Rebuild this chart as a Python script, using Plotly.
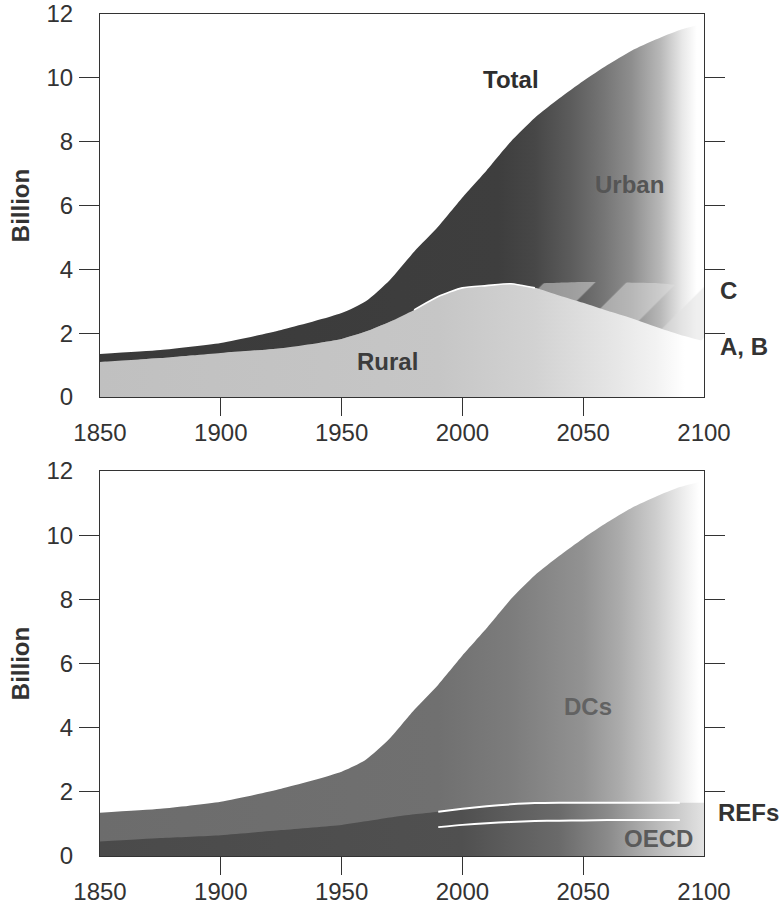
import plotly.graph_objects as go

# ---------------- data (billion people) ----------------
years = [1850, 1875, 1900, 1925, 1950, 1960, 1970, 1980, 1990, 2000,
         2010, 2020, 2030, 2040, 2050, 2060, 2070, 2080, 2090, 2100]
total = [1.35, 1.47, 1.69, 2.10, 2.63, 3.00, 3.67, 4.55, 5.34, 6.25,
         7.10, 8.00, 8.75, 9.35, 9.90, 10.40, 10.85, 11.20, 11.50, 11.70]
rural_ab = [1.10, 1.22, 1.38, 1.53, 1.82, 2.05, 2.36, 2.73, 3.15, 3.42,
            3.49, 3.55, 3.42, 3.18, 2.95, 2.70, 2.47, 2.20, 1.95, 1.75]
rural_c = [1.10, 1.22, 1.38, 1.53, 1.82, 2.05, 2.36, 2.73, 3.15, 3.42,
           3.49, 3.55, 3.56, 3.58, 3.60, 3.60, 3.58, 3.57, 3.50, 3.45]
industrial = [0.45, 0.56, 0.65, 0.81, 0.97, 1.08, 1.20, 1.30, 1.38, 1.47,
              1.55, 1.61, 1.65, 1.66, 1.66, 1.66, 1.66, 1.66, 1.66, 1.66]
oecd = [None, None, None, None, None, None, None, None, 0.90, 0.97,
        1.02, 1.06, 1.09, 1.10, 1.11, 1.12, 1.12, 1.12, 1.12, 1.12]

x_ticks = [1850, 1900, 1950, 2000, 2050, 2100]
x_minor = [1900, 1950, 2000, 2050]
y_ticks = [0, 2, 4, 6, 8, 10, 12]
y_minor = [2, 4, 6, 8, 10]

FONT = "Liberation Sans, Arial, Helvetica, sans-serif"
INK = "#333333"

def grad(stops):
    return dict(type="horizontal", start=1850, stop=2100,
                colorscale=[[(y - 1850) / 250.0, c] for y, c in stops])

urban_grad = grad([(1850, "#3a3a3a"), (2015, "#3e3e3e"), (2030, "#474747"),
                   (2045, "#5c5c5c"), (2058, "#747474"), (2070, "#8e8e8e"),
                   (2082, "#b8b8b8"), (2091, "#e8e8e8"), (2097, "#ffffff"),
                   (2100, "#ffffff")])
rural_grad = grad([(1850, "#c0c0c0"), (1990, "#c6c6c6"), (2030, "#d2d2d2"),
                   (2060, "#e4e4e4"), (2080, "#f2f2f2"), (2092, "#ffffff"),
                   (2100, "#ffffff")])
dcs_grad = grad([(1850, "#6c6c6c"), (1990, "#707070"), (2020, "#7c7c7c"),
                 (2050, "#929292"), (2065, "#ababab"), (2080, "#cdcdcd"),
                 (2092, "#efefef"), (2098, "#ffffff"), (2100, "#ffffff")])
ind_grad = grad([(1850, "#4a4a4a"), (2000, "#505050"), (2040, "#6a6a6a"),
                 (2060, "#8a8a8a"), (2080, "#b8b8b8"), (2095, "#d8d8d8"),
                 (2100, "#e2e2e2")])

SM = 0.6
fig = go.Figure()

# ---------- top panel ----------
fig.add_trace(go.Scatter(x=years, y=total, mode="lines", fill="tozeroy",
                         line=dict(width=0, shape="spline", smoothing=SM),
                         fillgradient=urban_grad,
                         xaxis="x", yaxis="y", hoverinfo="skip"))
fig.add_trace(go.Scatter(x=years, y=rural_c, mode="lines", fill="tozeroy",
                         line=dict(width=0, shape="spline", smoothing=SM),
                         fillcolor="rgba(0,0,0,0)",
                         fillpattern=dict(shape="/", fgcolor="#e0e0e0",
                                          bgcolor="rgba(0,0,0,0)",
                                          size=58, solidity=0.62),
                         xaxis="x", yaxis="y", hoverinfo="skip"))
fig.add_trace(go.Scatter(x=years, y=rural_ab, mode="lines", fill="tozeroy",
                         line=dict(width=0, shape="spline", smoothing=SM),
                         fillgradient=rural_grad,
                         xaxis="x", yaxis="y", hoverinfo="skip"))
fig.add_trace(go.Scatter(x=years[7:13], y=rural_ab[7:13], mode="lines",
                         line=dict(width=1.6, color="#ffffff", shape="spline",
                                   smoothing=SM),
                         xaxis="x", yaxis="y", hoverinfo="skip"))

# ---------- bottom panel ----------
fig.add_trace(go.Scatter(x=years, y=total, mode="lines", fill="tozeroy",
                         line=dict(width=0, shape="spline", smoothing=SM),
                         fillgradient=dcs_grad,
                         xaxis="x2", yaxis="y2", hoverinfo="skip"))
fig.add_trace(go.Scatter(x=years, y=industrial, mode="lines", fill="tozeroy",
                         line=dict(width=0, shape="spline", smoothing=SM),
                         fillgradient=ind_grad,
                         xaxis="x2", yaxis="y2", hoverinfo="skip"))
fig.add_trace(go.Scatter(x=years[8:19], y=industrial[8:19], mode="lines",
                         line=dict(width=2, color="#ffffff", shape="spline",
                                   smoothing=SM),
                         xaxis="x2", yaxis="y2", hoverinfo="skip"))
fig.add_trace(go.Scatter(x=years[8:19], y=oecd[8:19], mode="lines",
                         line=dict(width=2, color="#ffffff", shape="spline",
                                   smoothing=SM),
                         xaxis="x2", yaxis="y2", hoverinfo="skip"))

def xax(anchor):
    return dict(range=[1850, 2100], tickvals=x_ticks,
                ticktext=[str(v) for v in x_ticks], ticks="",
                minor=dict(tickvals=x_minor, ticks="outside", ticklen=18,
                           tickwidth=1, tickcolor=INK),
                showline=True, linecolor=INK, linewidth=1, mirror=True,
                showgrid=False, zeroline=False, anchor=anchor,
                automargin=False, ticklabelstandoff=14,
                ticklabeloverflow="allow",
                tickfont=dict(family=FONT, size=24, color=INK))

def yax(domain, anchor):
    return dict(range=[0, 12], domain=domain, tickvals=y_ticks,
                ticktext=[str(v) for v in y_ticks], ticks="",
                minor=dict(tickvals=y_minor, ticks="outside", ticklen=20,
                           tickwidth=1, tickcolor=INK),
                showline=True, linecolor=INK, linewidth=1, mirror="ticks",
                showgrid=False, zeroline=False, anchor=anchor,
                automargin=False, ticklabelstandoff=21,
                ticklabeloverflow="allow",
                title=dict(text="<b>Billion</b>", standoff=10,
                           font=dict(family=FONT, size=24, color=INK)),
                tickfont=dict(family=FONT, size=24, color=INK))

fig.update_layout(
    width=781, height=908,
    margin=dict(l=100, r=77, t=14, b=52, autoexpand=False),
    paper_bgcolor="white", plot_bgcolor="white",
    showlegend=False,
    xaxis=xax("y"),
    xaxis2=xax("y2"),
    yaxis=yax([0.5451, 1.0], "x"),
    yaxis2=yax([0.0, 0.4572], "x2"),
)

def label(text, x, y, xref, yref, color, size=24):
    fig.add_annotation(text="<b>" + text + "</b>", x=x, y=y, xref=xref, yref=yref,
                       showarrow=False, xanchor="center", yanchor="middle",
                       font=dict(family=FONT, size=size, color=color))

label("Total", 2020, 9.95, "x", "y", "#2e2e2e")
label("Urban", 2069, 6.65, "x", "y", "#555555")
label("Rural", 1969, 1.1, "x", "y", "#3c3c3c")
label("C", 1.04, 3.35, "x domain", "y", INK)
label("A, B", 1.066, 1.57, "x domain", "y", INK)
label("DCs", 2052, 4.65, "x2", "y2", "#626262")
label("OECD", 2081, 0.56, "x2", "y2", "#5a5a5a")
label("REFs", 1.073, 1.37, "x2 domain", "y2", INK)

# remove the browser's default 8px body margin so the figure fills the window
fig.write_html("out.html",
               config={"displayModeBar": False},
               post_script="document.body.style.margin='0px';"
                           "document.body.style.overflow='hidden';")
